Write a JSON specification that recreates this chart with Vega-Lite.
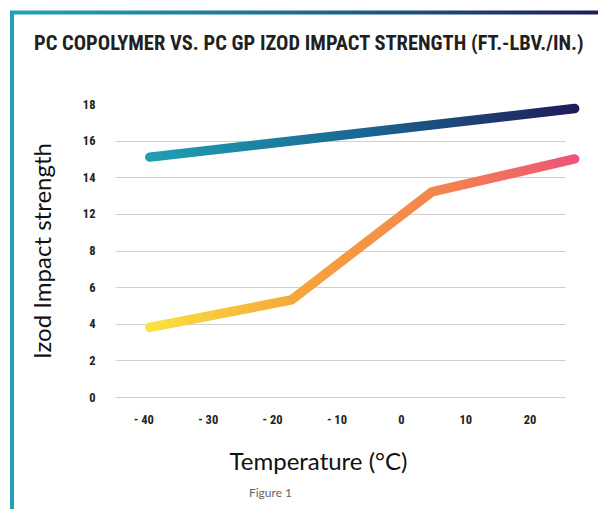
{
  "$schema": "https://vega.github.io/schema/vega-lite/v6.json",
  "autosize": "none",
  "width": 450,
  "height": 293,
  "padding": {"left": 115, "top": 104, "right": 33, "bottom": 112},
  "background": "white",
  "config": {"view": {"stroke": null}},
  "title": {
    "text": "PC COPOLYMER VS. PC GP IZOD IMPACT STRENGTH (FT.-LBV./IN.)",
    "anchor": "start",
    "frame": "group",
    "dx": -81,
    "offset": -60,
    "baseline": "alphabetic",
    "font": "Roboto Condensed, Liberation Sans Narrow, Lato, sans-serif",
    "fontWeight": "bold",
    "fontSize": 20.5,
    "color": "#231f20"
  },
  "datasets": {
    "copolymer": [
      {"temperature": -39, "strength": 15.1},
      {"temperature": 27, "strength": 17.75}
    ],
    "gp": [
      {"temperature": -39, "strength": 3.8},
      {"temperature": -17, "strength": 5.3},
      {"temperature": 4.8, "strength": 13.2},
      {"temperature": 27, "strength": 15.0}
    ]
  },
  "resolve": {"axis": {"x": "independent"}},
  "layer": [
    {
      "data": {"name": "copolymer"},
      "mark": {
        "type": "line",
        "strokeWidth": 9.5,
        "strokeCap": "round",
        "strokeJoin": "round",
        "stroke": {
          "gradient": "linear",
          "x1": 0, "y1": 0, "x2": 1, "y2": 0,
          "stops": [
            {"offset": 0, "color": "#1f9fb3"},
            {"offset": 0.5, "color": "#1a6792"},
            {"offset": 1, "color": "#1f1c59"}
          ]
        }
      },
      "encoding": {
        "x": {
          "field": "temperature",
          "type": "quantitative",
          "scale": {"domain": [-44.4, 25.5], "nice": false, "zero": false},
          "axis": {
            "values": [-40, -30, -20, -10, 0, 10, 20],
            "tickCount": 20,
            "labelExpr": "datum.value < 0 ? '- ' + abs(datum.value) : datum.label",
            "domain": false,
            "ticks": false,
            "grid": false,
            "labelOverlap": false,
            "labelPadding": 16,
            "labelFont": "Roboto Condensed, Liberation Sans Narrow, Lato, sans-serif",
            "labelFontWeight": "bold",
            "labelFontSize": 12.5,
            "labelColor": "#222222",
            "title": "Temperature (°C)",
            "titleFont": "Lato",
            "titleFontWeight": "normal",
            "titleFontSize": 24,
            "titleColor": "#111111",
            "titleX": 203,
            "titleY": 72,
            "titleBaseline": "alphabetic"
          }
        },
        "y": {
          "field": "strength",
          "type": "quantitative",
          "scale": {"domain": [0, 8, 12, 18], "range": [293, 146.5, 109.875, 0], "nice": false, "zero": false},
          "axis": {
            "values": [0, 2, 4, 6, 8, 12, 14, 16, 18],
            "tickCount": 20,
            "domain": false,
            "ticks": false,
            "grid": true,
            "gridColor": "#d0d0d0",
            "gridWidth": 1,
            "gridOpacity": {"condition": {"test": "datum.value >= 18", "value": 0}, "value": 1},
            "labelOverlap": false,
            "labelPadding": 20,
            "labelFont": "Roboto Condensed, Liberation Sans Narrow, Lato, sans-serif",
            "labelFontWeight": "bold",
            "labelFontSize": 12.5,
            "labelColor": "#222222",
            "title": "Izod Impact strength",
            "titleFont": "Lato",
            "titleFontWeight": "normal",
            "titleFontSize": 24,
            "titleColor": "#111111",
            "titlePadding": 27
          }
        }
      }
    },
    {
      "data": {"name": "gp"},
      "mark": {
        "type": "line",
        "strokeWidth": 9.5,
        "strokeCap": "round",
        "strokeJoin": "round",
        "stroke": {
          "gradient": "linear",
          "x1": 0, "y1": 0, "x2": 1, "y2": 0,
          "stops": [
            {"offset": 0, "color": "#f9e23f"},
            {"offset": 0.35, "color": "#f6a53b"},
            {"offset": 0.7, "color": "#f38150"},
            {"offset": 1, "color": "#ee5577"}
          ]
        }
      },
      "encoding": {
        "x": {
          "field": "temperature",
          "type": "quantitative",
          "axis": {
            "orient": "bottom",
            "labels": false,
            "domain": false,
            "ticks": false,
            "grid": false,
            "title": "Figure 1",
            "titleFont": "Lato",
            "titleFontWeight": "normal",
            "titleFontSize": 12,
            "titleColor": "#666666",
            "titleX": 155,
            "titleY": 99,
            "titleBaseline": "alphabetic"
          }
        },
        "y": {"field": "strength", "type": "quantitative"}
      }
    },
    {
      "data": {"values": [{}]},
      "mark": {
        "type": "rect",
        "clip": false,
        "fill": null,
        "strokeWidth": 4,
        "stroke": {
          "gradient": "linear",
          "x1": 0, "y1": 0, "x2": 1, "y2": 0,
          "stops": [
            {"offset": 0, "color": "#22a3b5"},
            {"offset": 0.5, "color": "#1b6a96"},
            {"offset": 1, "color": "#1f1b5c"}
          ]
        }
      },
      "encoding": {
        "x": {"datum": -60.4, "type": "quantitative", "axis": null},
        "x2": {"datum": 31.5},
        "y": {"datum": 23.0, "type": "quantitative"},
        "y2": {"datum": -6.5}
      }
    }
  ]
}
